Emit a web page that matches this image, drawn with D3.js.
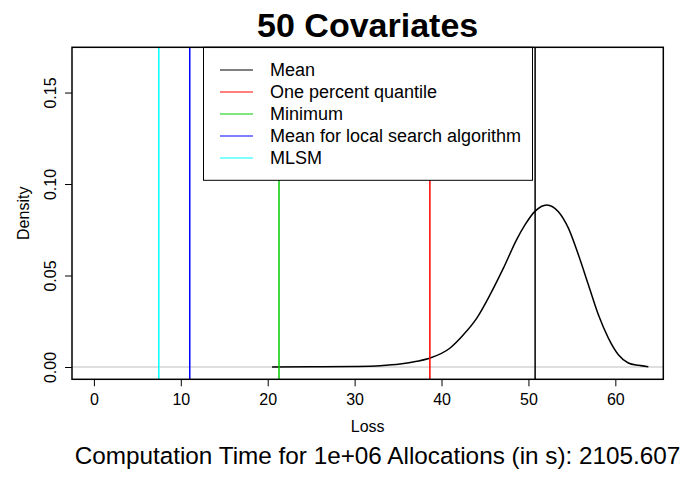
<!DOCTYPE html>
<html>
<head>
<meta charset="utf-8">
<script src="https://cdn.jsdelivr.net/npm/d3@7"></script>
<style>
  body { margin: 0; background: #fff; }
  svg text { font-family: "Liberation Sans", Arial, Helvetica, sans-serif; fill: #000; }
</style>
</head>
<body>
<div id="chart"></div>
<script>
// density curve of the loss
const lossX = [20.5, 25, 30, 32.94, 35.24, 37.16, 38.69, 40.99, 42.52, 44.06, 45.59, 47.12, 48.66,
  49.62, 50.77, 52.11, 53.45, 54.6, 55.75, 56.9, 58.05, 59.2, 60.35, 61.5, 62.65, 63.8];
const densityY = [0, 0.0001, 0.0003, 0.0007, 0.0016, 0.0031, 0.0049, 0.0104, 0.0176, 0.0267, 0.0395, 0.054, 0.0698,
  0.0778, 0.0852, 0.0886, 0.0849, 0.0759, 0.0613, 0.0449, 0.0285, 0.0158, 0.0067, 0.0022, 0.0009, 0.0002];

// reference lines
const refNames = ["Mean", "One percent quantile", "Minimum", "Mean for local search algorithm", "MLSM"];
const refValues = [50.77, 38.66, 21.3, 11.03, 7.47];
const refColors = ["#000000", "#FF0000", "#00CD00", "#0000FF", "#00FFFF"];

const xTicks = [0, 10, 20, 30, 40, 50, 60];
const yTicks = [0, 0.05, 0.1, 0.15];
const xlim = [0, 63];
const ylim = [0, 0.168];

const title = "50 Covariates";
const subtitle = "Computation Time for 1e+06 Allocations (in s): 2105.607";

const width = 681;
const height = 479;
const plot = { left: 72, right: 663.3, top: 47.3, bottom: 379.3 };

const svg = d3.select("#chart")
  .append("svg")
  .attr("width", width)
  .attr("height", height);

// R style 4% axis expansion
const xpad = (xlim[1] - xlim[0]) * 0.04;
const ypad = (ylim[1] - ylim[0]) * 0.04;

const x = d3.scaleLinear()
  .domain([xlim[0] - xpad, xlim[1] + xpad])
  .range([plot.left, plot.right]);

const y = d3.scaleLinear()
  .domain([ylim[0] - ypad, ylim[1] + ypad])
  .range([plot.bottom, plot.top]);

// zero line
svg.append("line")
  .attr("x1", plot.left)
  .attr("x2", plot.right)
  .attr("y1", y(0))
  .attr("y2", y(0))
  .attr("stroke", "#bebebe")
  .attr("stroke-width", 1);

// density curve
const line = d3.line()
  .x((d, i) => x(lossX[i]))
  .y((d) => y(d))
  .curve(d3.curveMonotoneX);

svg.append("path")
  .datum(densityY)
  .attr("d", line)
  .attr("fill", "none")
  .attr("stroke", "#000")
  .attr("stroke-width", 1.5);

// vertical reference lines
svg.selectAll("line.ref")
  .data(refValues)
  .enter()
  .append("line")
  .attr("class", "ref")
  .attr("x1", (d) => x(d))
  .attr("x2", (d) => x(d))
  .attr("y1", plot.top)
  .attr("y2", plot.bottom)
  .attr("stroke", (d, i) => refColors[i])
  .attr("stroke-width", 1.5);

// axes
const xAxis = svg.append("g")
  .attr("transform", `translate(0,${plot.bottom})`)
  .call(d3.axisBottom(x).tickValues(xTicks).tickSize(7).tickPadding(7).tickFormat(d3.format("d")));
xAxis.select(".domain").remove();
xAxis.selectAll("text").attr("font-size", 16).style("font-family", null);
xAxis.selectAll("line").attr("stroke", "#000");

const yAxis = svg.append("g")
  .attr("transform", `translate(${plot.left},0)`)
  .call(d3.axisLeft(y).tickValues(yTicks).tickSize(7).tickFormat(d3.format(".2f")));
yAxis.select(".domain").remove();
yAxis.selectAll("line").attr("stroke", "#000");
yAxis.selectAll("text")
  .attr("font-size", 16)
  .attr("x", null)
  .attr("dy", null)
  .attr("text-anchor", "middle")
  .attr("transform", (d) => `translate(-16,0) rotate(-90)`);

// legend
const legend = svg.append("g");
legend.append("rect")
  .attr("x", 203.5)
  .attr("y", plot.top)
  .attr("width", 329)
  .attr("height", 133)
  .attr("fill", "#fff")
  .attr("stroke", "#000")
  .attr("stroke-width", 1);

const rows = legend.selectAll("g.row")
  .data(refNames)
  .enter()
  .append("g")
  .attr("class", "row")
  .attr("transform", (d, i) => `translate(0,${70 + i * 22})`);

rows.append("line")
  .attr("x1", 220)
  .attr("x2", 253)
  .attr("stroke", (d, i) => refColors[i])
  .attr("stroke-width", 1);

rows.append("text")
  .attr("x", 270)
  .attr("dy", "0.35em")
  .attr("font-size", 18)
  .text((d) => d);

// plot frame
svg.append("rect")
  .attr("x", plot.left)
  .attr("y", plot.top)
  .attr("width", plot.right - plot.left)
  .attr("height", plot.bottom - plot.top)
  .attr("fill", "none")
  .attr("stroke", "#000")
  .attr("stroke-width", 1.5);

// titles
const cx = (plot.left + plot.right) / 2;
svg.append("text")
  .attr("x", cx)
  .attr("y", 37)
  .attr("text-anchor", "middle")
  .attr("font-size", 34)
  .attr("font-weight", "bold")
  .text(title);

svg.append("text")
  .attr("x", cx)
  .attr("y", 432)
  .attr("text-anchor", "middle")
  .attr("font-size", 16)
  .text("Loss");

svg.append("text")
  .attr("transform", `translate(29,${(plot.top + plot.bottom) / 2}) rotate(-90)`)
  .attr("text-anchor", "middle")
  .attr("font-size", 16)
  .text("Density");

svg.append("text")
  .attr("x", 377.5)
  .attr("y", 464)
  .attr("text-anchor", "middle")
  .attr("font-size", 24.3)
  .text(subtitle);
</script>
</body>
</html>
